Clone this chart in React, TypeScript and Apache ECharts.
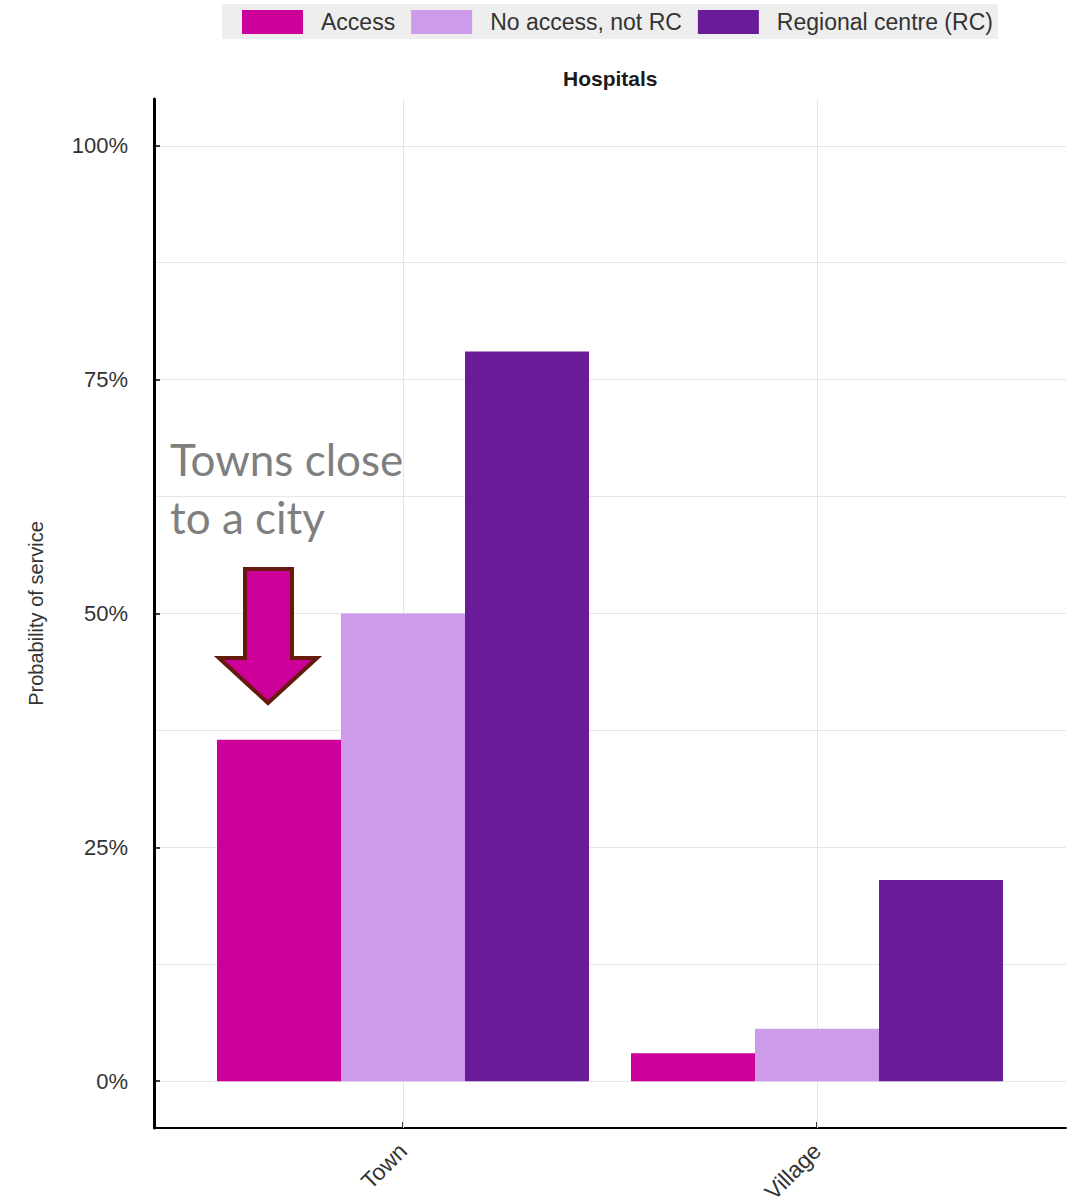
import React, { useEffect, useRef } from "react";
import * as echarts from "echarts";

const categories = ["Town", "Village"];
const seriesNames = ["Access", "No access, not RC", "Regional centre (RC)"];
const accessValues = [0.365, 0.03];
const noAccessValues = [0.5, 0.056];
const regionalCentreValues = [0.78, 0.215];
const majorTicks = [0, 0.25, 0.5, 0.75, 1];
const gridTicks = [0, 0.125, 0.25, 0.375, 0.5, 0.625, 0.75, 0.875, 1];
const colors = ["#CC0099", "#CE9BEA", "#6A1B9A"];
const titleText = "Hospitals";
const yAxisName = "Probability of service";
const annotationText = "Towns close\nto a city";

export default function App() {
  const ref = useRef<HTMLDivElement>(null);

  useEffect(() => {
    document.body.style.margin = "0";
    if (!ref.current) return;
    const chart = echarts.init(ref.current, null, { renderer: "svg" });
    const values = [accessValues, noAccessValues, regionalCentreValues];
    const gridColor = "#e6e6e6";
    const font = "Liberation Sans";

    const option: any = {
      animation: false,
      backgroundColor: "#ffffff",
      textStyle: { fontFamily: font },
      title: {
        text: titleText,
        left: 558,
        top: 63,
        textStyle: { fontSize: 21, fontWeight: "bold", color: "#1a1a1a", fontFamily: font },
      },
      legend: {
        data: seriesNames,
        left: 222,
        top: 4,
        icon: "rect",
        itemWidth: 61,
        itemHeight: 24,
        itemGap: 16,
        padding: [6, 5, 5, 20],
        backgroundColor: "#eeeeee",
        textStyle: { fontSize: 23, color: "#333333", fontFamily: font, padding: [0, 0, 0, 13] },
      },
      grid: [
        { left: 196, right: 47, top: 99, bottom: 76, outerBoundsMode: "none", containLabel: false },
        { left: 154, right: 5, top: 99, bottom: 76, outerBoundsMode: "none", containLabel: false },
      ],
      xAxis: [
        {
          gridIndex: 0,
          type: "category",
          data: categories,
          axisLine: { show: false, onZero: false },
          axisTick: {
            show: true,
            inside: true,
            alignWithLabel: true,
            length: 6,
            lineStyle: { color: "#000000", width: 1.5 },
          },
          axisLabel: { rotate: 45, fontSize: 23, color: "#333333", margin: 19, fontFamily: font },
          splitLine: { show: false },
        },
        {
          gridIndex: 1,
          type: "value",
          min: 0,
          max: 1,
          axisLine: { show: true, onZero: false, lineStyle: { color: "#000000", width: 2 } },
          axisTick: { show: false },
          axisLabel: { show: false },
          splitLine: { show: false },
        },
      ],
      yAxis: [
        { gridIndex: 0, type: "value", min: -0.05, max: 1.05, show: false },
        {
          gridIndex: 1,
          type: "value",
          position: "left",
          min: -0.05,
          max: 1.05,
          axisLine: { show: false, onZero: false },
          axisTick: { show: false, customValues: gridTicks },
          axisLabel: { show: false },
          splitLine: { show: true, lineStyle: { color: gridColor, width: 1 } },
        },
        {
          gridIndex: 1,
          type: "value",
          position: "left",
          min: -0.05,
          max: 1.05,
          name: yAxisName,
          nameLocation: "middle",
          nameGap: 108,
          nameTextStyle: { fontSize: 20, color: "#333333", fontFamily: font },
          axisLine: { show: true, onZero: false, lineStyle: { color: "#000000", width: 3 } },
          axisTick: {
            show: true,
            inside: true,
            length: 6,
            customValues: majorTicks,
            lineStyle: { color: "#000000", width: 1.5 },
          },
          axisLabel: {
            customValues: majorTicks,
            formatter: (v: number) => Math.round(v * 100) + "%",
            fontSize: 22,
            color: "#333333",
            margin: 26,
            fontFamily: font,
          },
          splitLine: { show: false },
        },
      ],
      series: seriesNames.map((name, i) => ({
        name,
        type: "bar",
        xAxisIndex: 0,
        yAxisIndex: 0,
        data: values[i],
        barWidth: 124,
        barGap: "0%",
        itemStyle: { color: colors[i] },
        emphasis: { disabled: true },
        ...(i === 1
          ? {
              markLine: {
                silent: true,
                z: 1,
                symbol: "none",
                label: { show: false },
                lineStyle: { color: gridColor, width: 1, type: "solid" },
                emphasis: { disabled: true },
                data: categories.map((c) => ({ xAxis: c })),
              },
            }
          : {}),
      })),
      graphic: [
        {
          type: "text",
          left: 170,
          top: 430,
          style: {
            text: annotationText,
            fontSize: 44,
            lineHeight: 58,
            fontFamily: "Lato",
            fill: "#7f7f7f",
          },
          z: 10,
        },
        {
          type: "polygon",
          shape: {
            points: [
              [245, 569],
              [292, 569],
              [292, 658],
              [317, 658],
              [268, 703],
              [219, 658],
              [245, 658],
            ],
          },
          style: { fill: "#CC0099", stroke: "#651A0D", lineWidth: 4, lineJoin: "miter" },
          z: 10,
        },
      ],
    };

    chart.setOption(option);
    return () => chart.dispose();
  }, []);

  return <div ref={ref} style={{ width: 1071, height: 1204 }} />;
}
